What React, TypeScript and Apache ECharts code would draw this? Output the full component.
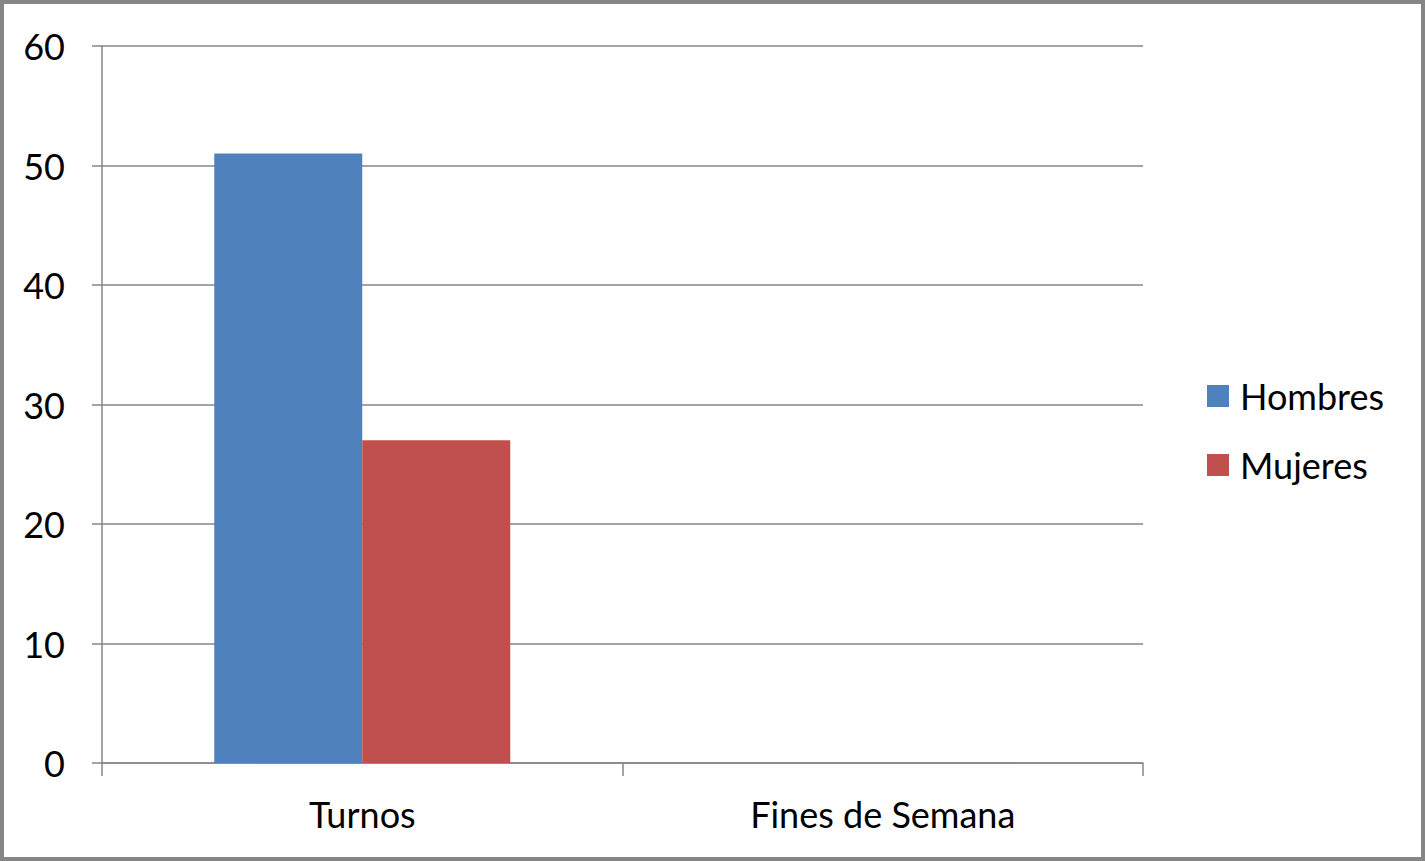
import React, { useEffect, useRef } from "react";
import * as echarts from "echarts";

const categories = ["Turnos", "Fines de Semana"];
const hombres = [51, 0];
const mujeres = [27, 0];
const seriesNames = ["Hombres", "Mujeres"];

const FONT = "Lato, 'Open Sans', sans-serif";

export default function App() {
  const ref = useRef<HTMLDivElement>(null);
  useEffect(() => {
    document.body.style.margin = "0";
    const chart = echarts.init(ref.current!, undefined, { renderer: "svg" });
    chart.setOption({
      animation: false,
      backgroundColor: "#ffffff",
      textStyle: { fontFamily: FONT },
      grid: { left: 102, right: 282, top: 46, bottom: 98, containLabel: false },
      legend: {
        orient: "vertical",
        left: 1207,
        top: 378,
        padding: 0,
        itemWidth: 22,
        itemHeight: 22,
        itemGap: 33,
        icon: "rect",
        data: seriesNames,
        textStyle: {
          fontSize: 36,
          lineHeight: 22,
          color: "#000",
          fontFamily: FONT,
          padding: [0, 0, 0, 6],
        },
      },
      xAxis: {
        type: "category",
        data: categories,
        axisLine: { lineStyle: { color: "#868686", width: 1.5 } },
        axisTick: { show: true, length: 13, lineStyle: { color: "#868686", width: 1.5 } },
        axisLabel: { fontSize: 36, color: "#000", margin: 33, fontFamily: FONT },
      },
      yAxis: {
        type: "value",
        min: 0,
        max: 60,
        interval: 10,
        axisLine: { show: true, lineStyle: { color: "#868686", width: 1.5 } },
        axisTick: { show: true, length: 10, lineStyle: { color: "#868686", width: 1.5 } },
        axisLabel: { fontSize: 36, color: "#000", margin: 37, fontFamily: FONT },
        splitLine: { show: true, lineStyle: { color: "#868686", width: 1.5 } },
      },
      series: [
        {
          name: seriesNames[0],
          type: "bar",
          data: hombres,
          barWidth: 148,
          barGap: "0%",
          itemStyle: { color: "#4F81BD" },
        },
        {
          name: seriesNames[1],
          type: "bar",
          data: mujeres,
          barWidth: 148,
          barGap: "0%",
          itemStyle: { color: "#C0504D" },
        },
      ],
    });
    return () => chart.dispose();
  }, []);
  return (
    <div style={{ position: "fixed", left: 0, top: 0, width: 1425, height: 861 }}>
      <div ref={ref} style={{ position: "absolute", left: 0, top: 0, width: 1425, height: 861 }} />
      <div
        style={{
          position: "absolute",
          left: 0,
          top: 0,
          width: 1425,
          height: 861,
          boxSizing: "border-box",
          border: "4px solid #868686",
          pointerEvents: "none",
        }}
      />
    </div>
  );
}
